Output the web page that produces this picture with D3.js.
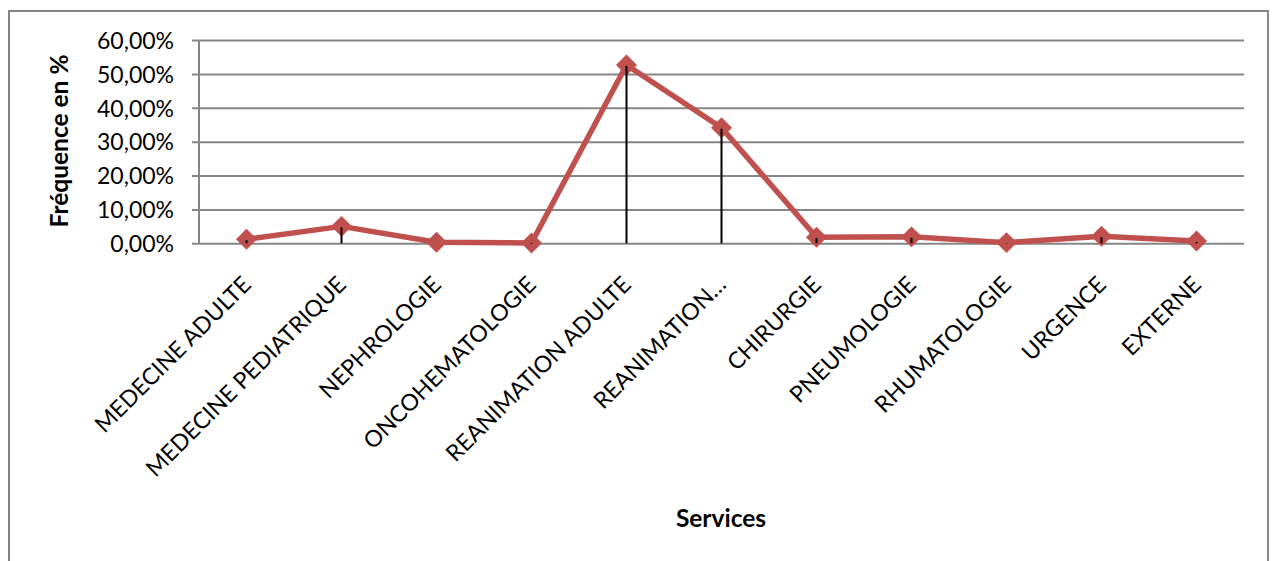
<!DOCTYPE html>
<html>
<head>
<meta charset="utf-8">
<script src="https://cdn.jsdelivr.net/npm/d3@7"></script>
<style>
  html, body { margin: 0; padding: 0; background: #fff; }
  svg { display: block; }
  text { font-family: Lato, "Open Sans", sans-serif; fill: #000; }
</style>
</head>
<body>
<svg id="chart" width="1274" height="561"></svg>
<script>
// Services and their frequency (share of cases)
const services = [
  "MEDECINE ADULTE", "MEDECINE PEDIATRIQUE", "NEPHROLOGIE", "ONCOHEMATOLOGIE",
  "REANIMATION ADULTE", "REANIMATION…", "CHIRURGIE", "PNEUMOLOGIE",
  "RHUMATOLOGIE", "URGENCE", "EXTERNE"
];
const frequences = [0.012, 0.050, 0.003, 0.001, 0.526, 0.341, 0.018, 0.019, 0.002, 0.021, 0.007];
const yTicks = [0, 0.1, 0.2, 0.3, 0.4, 0.5, 0.6];

const svg = d3.select("#chart");
const plot = { left: 199, right: 1244, top: 40, bottom: 243.3 };

// outer chart frame
svg.append("rect")
  .attr("x", 9).attr("y", 11)
  .attr("width", 1259).attr("height", 570)
  .attr("fill", "none").attr("stroke", "#868686").attr("stroke-width", 2);

const x = d3.scalePoint().domain(services).range([plot.left, plot.right]).padding(0.5);
const y = d3.scaleLinear().domain([0, 0.6]).range([plot.bottom, plot.top]);

const fmt = v => d3.format(".2f")(v * 100).replace(".", ",") + "%";

// horizontal gridlines + y axis
const yAxis = d3.axisLeft(y).tickValues(yTicks)
  .tickSize(-(plot.right - plot.left)).tickPadding(25).tickFormat(fmt);
const gy = svg.append("g").attr("transform", `translate(${plot.left},0)`).call(yAxis);
gy.select(".domain").attr("stroke", "#868686").attr("stroke-width", 2)
  .attr("d", `M0,${plot.top}V${plot.bottom}`);
gy.selectAll(".tick line").attr("stroke", "#868686").attr("stroke-width", 2)
  .attr("x1", -7).attr("x2", plot.right - plot.left);
gy.selectAll(".tick text")
  .attr("font-size", 23).attr("font-family", "Lato, sans-serif").attr("fill", "#000")
  .attr("dy", "0.36em");

// category labels, rotated
svg.append("g").selectAll("text").data(services).join("text")
  .attr("text-anchor", "end")
  .attr("font-size", 23)
  .attr("transform", d => `translate(${x(d) + 6},${286}) rotate(-45)`)
  .text(d => d);

// line series
const pts = services.map((s, i) => [x(s), y(frequences[i])]);
svg.append("path")
  .attr("d", d3.line()(pts))
  .attr("fill", "none").attr("stroke", "#C0504D")
  .attr("stroke-width", 5.5).attr("stroke-linejoin", "round");

// diamond markers
const diamond = d3.symbol().type(d3.symbolDiamond2).size(280);
svg.append("g").selectAll("path").data(pts).join("path")
  .attr("transform", d => `translate(${d[0]},${d[1]})`)
  .attr("d", diamond)
  .attr("fill", "#C0504D");

// drop lines from each point to the category axis
svg.append("g").selectAll("line").data(pts).join("line")
  .attr("x1", d => d[0]).attr("x2", d => d[0])
  .attr("y1", d => d[1] + 1).attr("y2", plot.bottom)
  .attr("stroke", "#000").attr("stroke-width", 2);

// axis titles
svg.append("text")
  .attr("transform", `translate(68,141) rotate(-90)`)
  .attr("text-anchor", "middle")
  .attr("font-size", 24.5).attr("font-weight", "bold")
  .text("Fréquence en %");

svg.append("text")
  .attr("x", 721).attr("y", 527)
  .attr("text-anchor", "middle")
  .attr("font-size", 24.5).attr("font-weight", "bold")
  .text("Services");
</script>
</body>
</html>
